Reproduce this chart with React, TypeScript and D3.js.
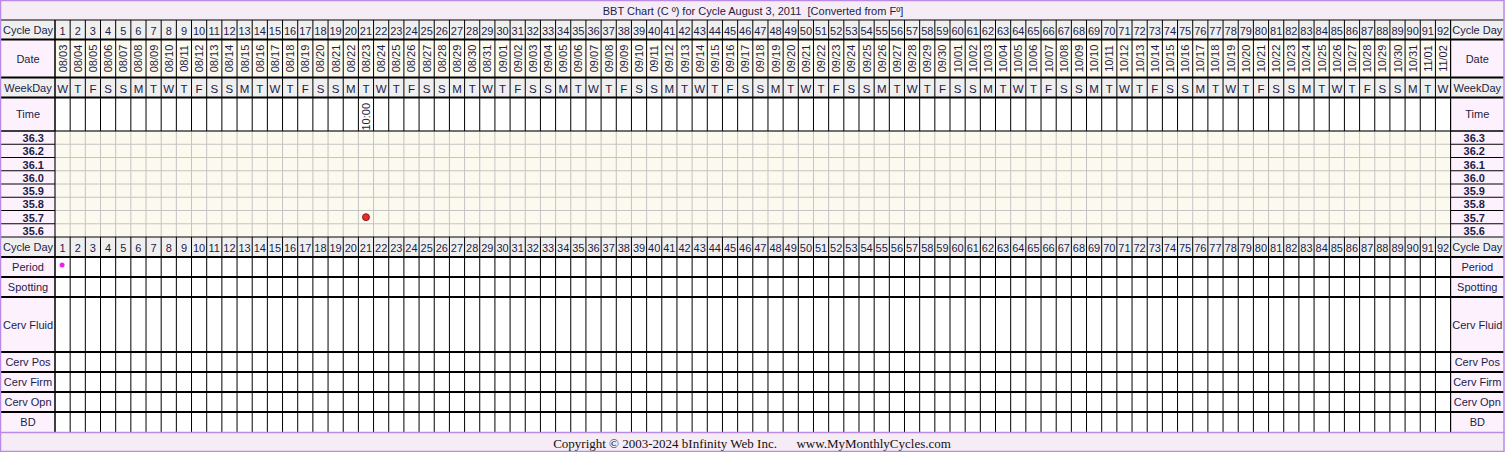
import React from "react";
import * as d3 from "d3";

const W = 1505;
const H = 452;

const cycleDays = [
  1, 2, 3, 4, 5, 6, 7, 8, 9, 10, 11, 12, 13, 14, 15, 16, 17, 18, 19, 20,
  21, 22, 23, 24, 25, 26, 27, 28, 29, 30, 31, 32, 33, 34, 35, 36, 37, 38, 39, 40,
  41, 42, 43, 44, 45, 46, 47, 48, 49, 50, 51, 52, 53, 54, 55, 56, 57, 58, 59, 60,
  61, 62, 63, 64, 65, 66, 67, 68, 69, 70, 71, 72, 73, 74, 75, 76, 77, 78, 79, 80,
  81, 82, 83, 84, 85, 86, 87, 88, 89, 90, 91, 92,
];

const dates = [
  "08/03", "08/04", "08/05", "08/06", "08/07", "08/08", "08/09", "08/10", "08/11", "08/12",
  "08/13", "08/14", "08/15", "08/16", "08/17", "08/18", "08/19", "08/20", "08/21", "08/22",
  "08/23", "08/24", "08/25", "08/26", "08/27", "08/28", "08/29", "08/30", "08/31",
  "09/01", "09/02", "09/03", "09/04", "09/05", "09/06", "09/07", "09/08", "09/09", "09/10",
  "09/11", "09/12", "09/13", "09/14", "09/15", "09/16", "09/17", "09/18", "09/19", "09/20",
  "09/21", "09/22", "09/23", "09/24", "09/25", "09/26", "09/27", "09/28", "09/29", "09/30",
  "10/01", "10/02", "10/03", "10/04", "10/05", "10/06", "10/07", "10/08", "10/09", "10/10",
  "10/11", "10/12", "10/13", "10/14", "10/15", "10/16", "10/17", "10/18", "10/19", "10/20",
  "10/21", "10/22", "10/23", "10/24", "10/25", "10/26", "10/27", "10/28", "10/29", "10/30",
  "10/31", "11/01", "11/02",
];

const weekdays = [
  "W", "T", "F", "S", "S", "M", "T", "W", "T", "F", "S", "S", "M", "T",
  "W", "T", "F", "S", "S", "M", "T", "W", "T", "F", "S", "S", "M", "T",
  "W", "T", "F", "S", "S", "M", "T", "W", "T", "F", "S", "S", "M", "T",
  "W", "T", "F", "S", "S", "M", "T", "W", "T", "F", "S", "S", "M", "T",
  "W", "T", "F", "S", "S", "M", "T", "W", "T", "F", "S", "S", "M", "T",
  "W", "T", "F", "S", "S", "M", "T", "W", "T", "F", "S", "S", "M", "T",
  "W", "T", "F", "S", "S", "M", "T", "W",
];

const tempLabels = ["36.3", "36.2", "36.1", "36.0", "35.9", "35.8", "35.7", "35.6"];
const tempTop = 36.35;
const tempBottom = 35.55;

const tempDays = [21];
const tempValues = [35.7];

const timeDays = [21];
const timeValues = ["10:00"];

const periodDays = [1];

const lowerRows = ["Period", "Spotting", "Cerv Fluid", "Cerv Pos", "Cerv Firm", "Cerv Opn", "BD"];
const lowerRowHeights = [20, 20, 55, 20, 20, 20, 20];

const titleText = "BBT Chart (C º) for Cycle August 3, 2011  [Converted from Fº]";
const footerText = "Copyright © 2003-2024 bInfinity Web Inc.      www.MyMonthlyCycles.com";

const FONT = "'Liberation Sans', Arial, sans-serif";
const TXT = "#1c1c48";
const PURPLE = "#b98ae6";
const PINK = "#fdf1fd";
const GRAY = "#efefef";
const CREAM = "#fcf9ee";
const BAND = "#f6ecf6";

export default function App() {
  const gx0 = 55;
  const gx1 = 1450.6;
  const rx1 = 1504;
  const x = d3.scaleBand<number>().domain(cycleDays).range([gx0, gx1]);
  const bw = x.bandwidth();

  const yTitle = 0, yCD = 20, yDate = 39.5, yWD = 77.5, yTime = 97.5, yTemp = 131, yCD2 = 237, yLow = 257;
  const yTempEnd = 237;
  const y = d3.scaleLinear().domain([tempTop, tempBottom]).range([yTemp, yTempEnd]);
  const tempStep = y(36.2) - y(36.3);

  const lowerBounds: number[] = [yLow];
  lowerRowHeights.forEach((h) => lowerBounds.push(lowerBounds[lowerBounds.length - 1] + h));
  const yFooter = lowerBounds[lowerBounds.length - 1];

  const colEdges = cycleDays.map((d) => x(d) as number).concat([gx1]);

  const labelLeft = (t: string, yc: number, key: string, bold = false) => (
    <g key={key}>
      <text x={28} y={yc} textAnchor="middle" dominantBaseline="central" fontSize={11} fontWeight={bold ? "bold" : "normal"} fill={TXT}>{t}</text>
      <text x={(gx1 + rx1) / 2} y={yc} textAnchor="middle" dominantBaseline="central" fontSize={11} fontWeight={bold ? "bold" : "normal"} fill={TXT}>{t}</text>
    </g>
  );

  return (
    <svg width={W} height={H} style={{ position: "absolute", left: 0, top: 0, fontFamily: FONT }}>
      <rect x={0} y={0} width={W} height={H} fill="#ffffff" />
      <rect x={0} y={yTitle} width={W} height={yCD} fill={BAND} />
      <text x={753} y={10.5} textAnchor="middle" dominantBaseline="central" fontSize={11} fill={TXT} style={{ whiteSpace: "pre" }}>{titleText}</text>

      <rect x={1} y={yCD} width={gx0 - 1} height={yFooter - yCD} fill={PINK} />
      <rect x={gx1} y={yCD} width={rx1 - gx1} height={yFooter - yCD} fill={PINK} />
      <rect x={1} y={yCD} width={rx1 - 1} height={yDate - yCD} fill={GRAY} />
      <rect x={1} y={yWD} width={rx1 - 1} height={yTime - yWD} fill={GRAY} />
      <rect x={1} y={yCD2} width={rx1 - 1} height={yLow - yCD2} fill={GRAY} />
      <rect x={gx0} y={yDate} width={gx1 - gx0} height={yWD - yDate} fill={CREAM} />
      <rect x={gx0} y={yTemp} width={gx1 - gx0} height={yTempEnd - yTemp} fill={CREAM} />

      {tempLabels.map((t, i) => (
        <line key={"hg" + i} x1={gx0} x2={gx1} y1={y(+t) - tempStep / 2} y2={y(+t) - tempStep / 2} stroke="#c4c4c4" strokeWidth={1} />
      ))}
      {colEdges.map((cx, i) => (
        <line key={"vg" + i} x1={cx} x2={cx} y1={yTemp} y2={yTempEnd} stroke="#c4c4c4" strokeWidth={1} />
      ))}
      {tempLabels.map((t, i) => (
        <g key={"hl" + i}>
          <line x1={1} x2={gx0} y1={y(+t) - tempStep / 2} y2={y(+t) - tempStep / 2} stroke="#000" strokeWidth={1} />
          <line x1={gx1} x2={rx1} y1={y(+t) - tempStep / 2} y2={y(+t) - tempStep / 2} stroke="#000" strokeWidth={1} />
        </g>
      ))}

      {colEdges.map((cx, i) => (
        <g key={"vb" + i}>
          <line x1={cx} x2={cx} y1={yCD} y2={yTemp} stroke="#000" strokeWidth={1} />
          <line x1={cx} x2={cx} y1={yCD2} y2={yFooter} stroke="#000" strokeWidth={1} />
        </g>
      ))}
      <line x1={gx0} x2={gx0} y1={yCD} y2={yFooter} stroke="#000" strokeWidth={1} />
      <line x1={gx1} x2={gx1} y1={yCD} y2={yFooter} stroke="#000" strokeWidth={1} />

      {[yCD, yDate, yWD, yTime].map((yy, i) => (
        <line key={"hb" + i} x1={1} x2={rx1} y1={yy} y2={yy} stroke="#000" strokeWidth={i === 0 ? 1 : 2} />
      ))}
      <line x1={1} x2={rx1} y1={yTemp} y2={yTemp} stroke="#000" strokeWidth={1} />
      <line x1={1} x2={rx1} y1={yCD2} y2={yCD2} stroke="#000" strokeWidth={1} />
      {lowerBounds.slice(0, -1).map((yy, i) => (
        <line key={"lb" + i} x1={1} x2={rx1} y1={yy} y2={yy} stroke="#000" strokeWidth={2} />
      ))}

      {labelLeft("Cycle Day", (yCD + yDate) / 2, "cd")}
      {labelLeft("Date", (yDate + yWD) / 2, "dt")}
      {labelLeft("WeekDay", (yWD + yTime) / 2, "wd")}
      {labelLeft("Time", (yTime + yTemp) / 2, "tm")}
      {labelLeft("Cycle Day", (yCD2 + yLow) / 2, "cd2")}
      {cycleDays.map((d) => (
        <g key={"c" + d}>
          <text x={(x(d) as number) + bw / 2} y={(yCD + yDate) / 2 + 1} textAnchor="middle" dominantBaseline="central" fontSize={11} fill={TXT}>{d}</text>
          <text x={(x(d) as number) + bw / 2} y={(yCD2 + yLow) / 2 + 1} textAnchor="middle" dominantBaseline="central" fontSize={11} fill={TXT}>{d}</text>
        </g>
      ))}
      {dates.map((dt, i) => {
        const cx = (x(cycleDays[i]) as number) + bw / 2;
        const cy = (yDate + yWD) / 2;
        return (
          <text key={"d" + i} transform={`translate(${cx},${cy}) rotate(-90)`} textAnchor="middle" dominantBaseline="central" fontSize={11} fill={TXT}>{dt}</text>
        );
      })}
      {weekdays.map((w, i) => (
        <text key={"w" + i} x={(x(cycleDays[i]) as number) + bw / 2} y={(yWD + yTime) / 2 + 1} textAnchor="middle" dominantBaseline="central" fontSize={11.5} fill={TXT}>{w}</text>
      ))}
      {timeDays.map((d, i) => (
        <text key={"t" + i} transform={`translate(${(x(d) as number) + bw / 2},${yTime + 33}) rotate(-90)`} textAnchor="start" dominantBaseline="central" fontSize={11} fill={TXT}>{timeValues[i]}</text>
      ))}

      {tempLabels.map((t, i) => (
        <g key={"tl" + i}>
          <text x={44} y={y(+t) + 0.5} textAnchor="end" dominantBaseline="central" fontSize={11} fontWeight="bold" fill={TXT}>{t}</text>
          <text x={1485} y={y(+t) + 0.5} textAnchor="end" dominantBaseline="central" fontSize={11} fontWeight="bold" fill={TXT}>{t}</text>
        </g>
      ))}

      {tempDays.map((d, i) => (
        <circle key={"p" + i} cx={(x(d) as number) + bw / 2} cy={y(tempValues[i])} r={3.5} fill="#ee2a2a" stroke="#6a1010" strokeWidth={0.8} />
      ))}

      {lowerRows.map((r, i) => labelLeft(r, (lowerBounds[i] + lowerBounds[i + 1]) / 2, "lr" + i))}
      {periodDays.map((d) => (
        <circle key={"pd" + d} cx={(x(d) as number) + bw / 2 - 0.5} cy={lowerBounds[0] + 8} r={2.5} fill="#ee22ee" />
      ))}

      <rect x={1} y={yFooter} width={W - 2} height={H - yFooter - 1} fill={BAND} />
      <line x1={0} x2={W} y1={yFooter + 0.5} y2={yFooter + 0.5} stroke={PURPLE} strokeWidth={1.5} />
      <text x={752} y={443} textAnchor="middle" dominantBaseline="central" fontSize={13} fontFamily="'Liberation Serif', 'Times New Roman', serif" fill="#111" style={{ whiteSpace: "pre" }}>{footerText}</text>

      <rect x={0.5} y={0.5} width={W - 1.5} height={H - 1} fill="none" stroke={PURPLE} strokeWidth={1.5} />
    </svg>
  );
}
